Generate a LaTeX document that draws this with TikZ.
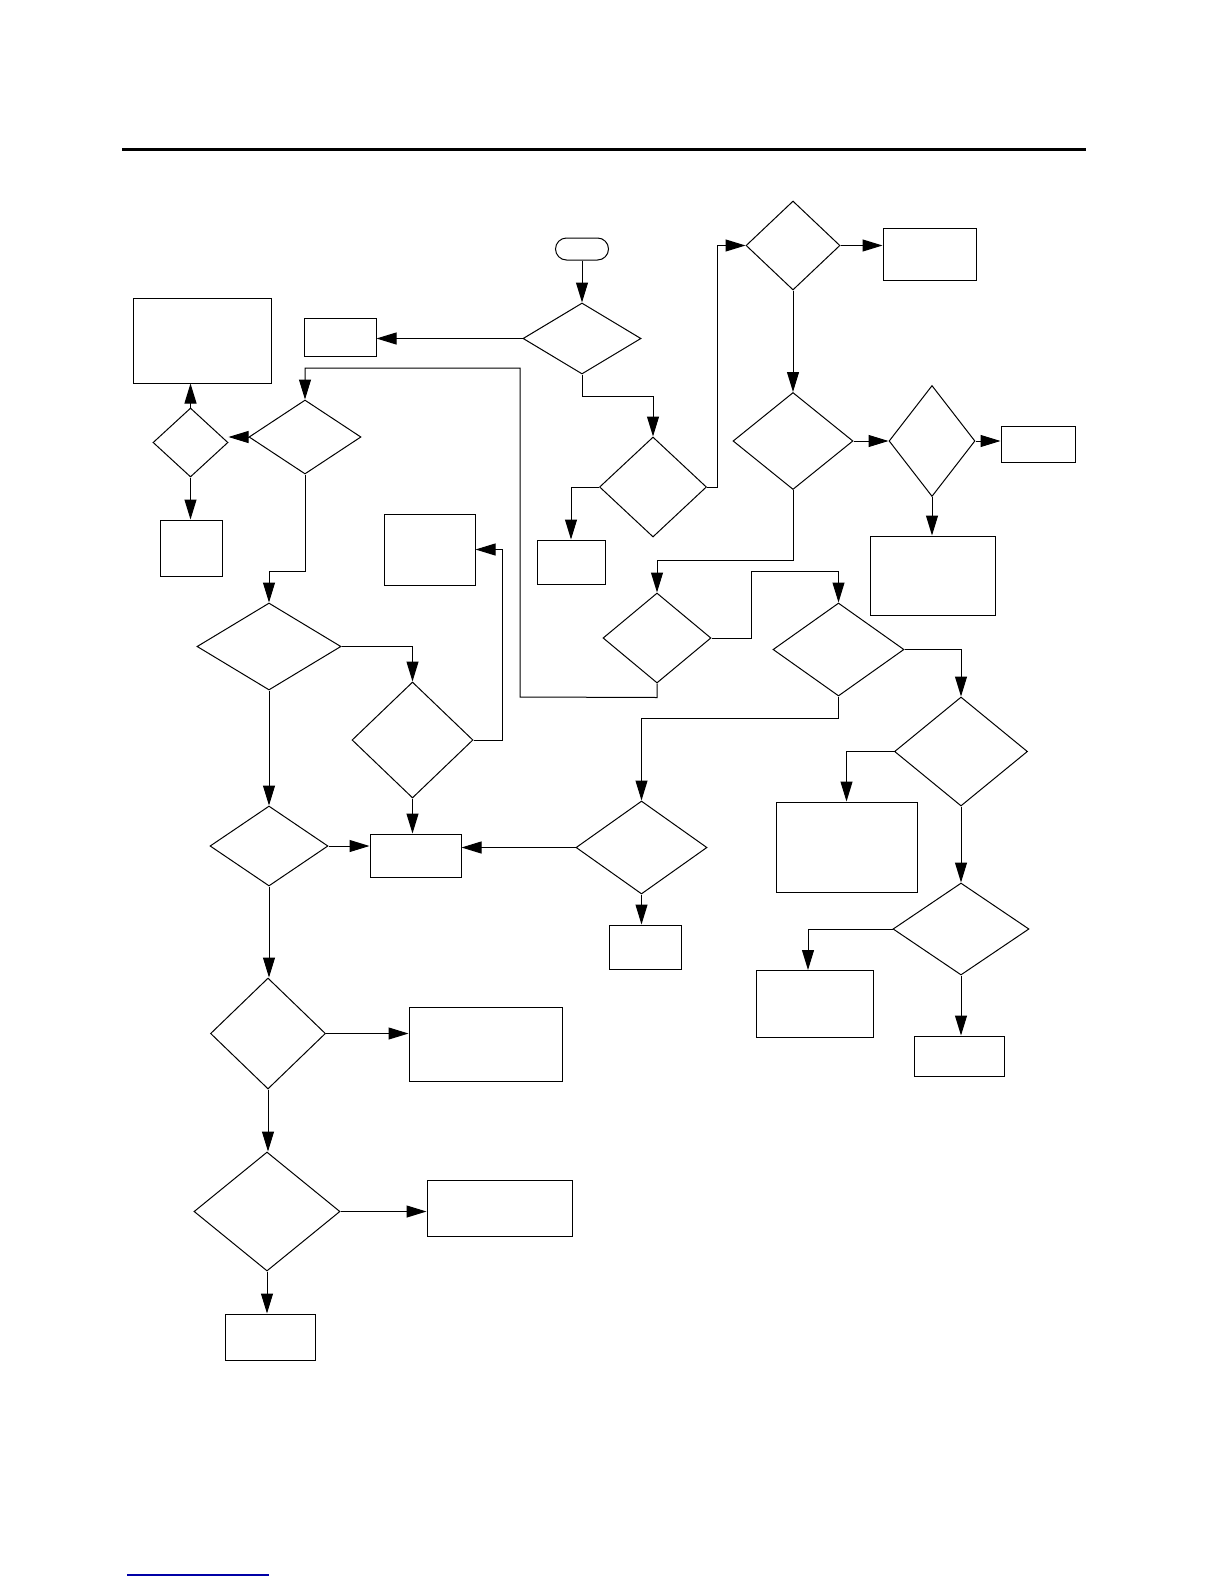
\documentclass[tikz,border=0pt]{standalone}
\usetikzlibrary{shapes.geometric,arrows.meta}
\begin{document}
\begin{tikzpicture}[x=1pt,y=-1pt,line width=1pt,
  dia/.style={diamond,draw,inner sep=0pt,aspect=1},
  box/.style={rectangle,draw,inner sep=0pt},
  term/.style={rectangle,draw,rounded corners=11pt,inner sep=0pt,minimum width=53pt,minimum height=22pt},
  arr/.style={-{Triangle[length=20pt,width=12pt]}}]
\useasboundingbox[fill=white] (0,0) rectangle (1224,1584);
% page rules
\coordinate (ruleL) at (122,149.5);
\coordinate (ruleR) at (1086,149.5);
\draw[line width=2.5pt] (ruleL) -- (ruleR);
\coordinate (footL) at (127,1575);
\coordinate (footR) at (269,1575);
\draw[line width=1.3pt,color=blue!65!black] (footL) -- (footR);
% terminator
\node[term] (start) at (582,249) {};
% diamonds
\node[dia,minimum width=118pt,minimum height=71pt] (d1) at (582,338.5) {};
\node[dia,minimum width=107pt,minimum height=100pt] (d2) at (653,487) {};
\node[dia,minimum width=94pt,minimum height=89pt] (dt) at (793,245.5) {};
\node[dia,minimum width=120pt,minimum height=97pt] (dr1) at (793,441) {};
\node[dia,minimum width=86pt,minimum height=111pt] (dr2) at (932,441) {};
\node[dia,minimum width=108pt,minimum height=90pt] (d3) at (657,638) {};
\node[dia,minimum width=131pt,minimum height=93pt] (d4) at (838.5,649.5) {};
\node[dia,minimum width=133pt,minimum height=109pt] (d6) at (961,751.5) {};
\node[dia,minimum width=136pt,minimum height=92pt] (d7) at (961,929) {};
\node[dia,minimum width=112pt,minimum height=74pt] (dl1) at (305,437) {};
\node[dia,minimum width=75pt,minimum height=69pt] (ds) at (190.5,442.5) {};
\node[dia,minimum width=144pt,minimum height=87pt] (dl2) at (269,646.5) {};
\node[dia,minimum width=121pt,minimum height=116pt] (dl3) at (412.5,740) {};
\node[dia,minimum width=118pt,minimum height=80pt] (dl4) at (269,846) {};
\node[dia,minimum width=131pt,minimum height=93pt] (d5) at (641.5,847.5) {};
\node[dia,minimum width=115pt,minimum height=111pt] (dl5) at (268,1033.5) {};
\node[dia,minimum width=146pt,minimum height=119pt] (dl6) at (267,1211.5) {};
% boxes
\node[box,minimum width=138pt,minimum height=85pt] (bigbox) at (202,340.5) {};
\node[box,minimum width=72pt,minimum height=38pt] (bsmall) at (340,337) {};
\node[box,minimum width=62pt,minimum height=56pt] (btall) at (191,548) {};
\node[box,minimum width=91pt,minimum height=71pt] (bmid) at (429.5,549.5) {};
\node[box,minimum width=68pt,minimum height=44pt] (b10) at (571,562) {};
\node[box,minimum width=93pt,minimum height=52pt] (btr) at (929.5,254) {};
\node[box,minimum width=74pt,minimum height=36pt] (br) at (1038,444) {};
\node[box,minimum width=125pt,minimum height=79pt] (brb) at (932.5,575.5) {};
\node[box,minimum width=141pt,minimum height=90pt] (b7) at (846.5,847) {};
\node[box,minimum width=117pt,minimum height=67pt] (b8) at (814.5,1003.5) {};
\node[box,minimum width=90pt,minimum height=40pt] (b9) at (959,1056) {};
\node[box,minimum width=91pt,minimum height=43pt] (b11) at (415.5,855.5) {};
\node[box,minimum width=72pt,minimum height=44pt] (b5) at (645,947) {};
\node[box,minimum width=153pt,minimum height=74pt] (b12) at (485.5,1044) {};
\node[box,minimum width=145pt,minimum height=56pt] (b13) at (499.5,1208) {};
\node[box,minimum width=90pt,minimum height=46pt] (b14) at (270,1337) {};
% connectors
\draw[arr] (start.south) -- (d1.north);
\draw[arr] (d1.west) -- (d1.west -| bsmall.east);
\draw[arr] (d1.south) -- ++(0,22) -| (d2.north);
\draw[arr] (d2.west) -| (b10.north);
\draw[arr] (d2.east) -- (717,487) |- (dt.west);
\draw[arr] (dt.east) -- (dt.east -| btr.west);
\draw[arr] (dt.south) -- (dr1.north);
\draw[arr] (dr1.east) -- (dr2.west);
\draw[arr] (dr2.east) -- (dr2.east -| br.west);
\draw[arr] (dr2.south) -- (dr2.south |- brb.north);
\draw[arr] (dr1.south) -- ++(0,70) -| (d3.north);
\draw[arr] (d3.east) -- (751,638) -- (751,571) -| (d4.north);
\draw[arr] (d3.south) -- ++(0,14) -- (520,697) -- (520,368) -| (dl1.north);
\draw[arr] (d4.south) -- ++(0,22) -| (d5.north);
\draw[arr] (d4.east) -| (d6.north);
\draw[arr] (d6.west) -| (b7.north);
\draw[arr] (d6.south) -- (d7.north);
\draw[arr] (d7.west) -| (808,970);
\draw[arr] (d7.south) -- (d7.south |- b9.north);
\draw[arr] (d5.west) -- (b11.east |- d5.west);
\draw[arr] (d5.south) -- (d5.south |- b5.north);
\draw[arr] (dl1.west) -- (dl1.west -| ds.east);
\draw[arr] (ds.north) -- (bigbox.south -| ds.north);
\draw[arr] (ds.south) -- (btall.north -| ds.south);
\draw[arr] (dl1.south) -- ++(0,97) -| (dl2.north);
\draw[arr] (dl2.east) -| (dl3.north);
\draw[arr] (dl3.east) -- (502,740) |- (bmid.east);
\draw[arr] (dl3.south) -- (b11.north -| dl3.south);
\draw[arr] (dl2.south) -- (dl4.north);
\draw[arr] (dl4.east) -- (b11.west |- dl4.east);
\draw[arr] (dl4.south) -- (dl4.south |- dl5.north);
\draw[arr] (dl5.east) -- (b12.west |- dl5.east);
\draw[arr] (dl5.south) -- (dl5.south |- dl6.north);
\draw[arr] (dl6.east) -- (b13.west |- dl6.east);
\draw[arr] (dl6.south) -- (dl6.south |- b14.north);
\end{tikzpicture}
\end{document}
